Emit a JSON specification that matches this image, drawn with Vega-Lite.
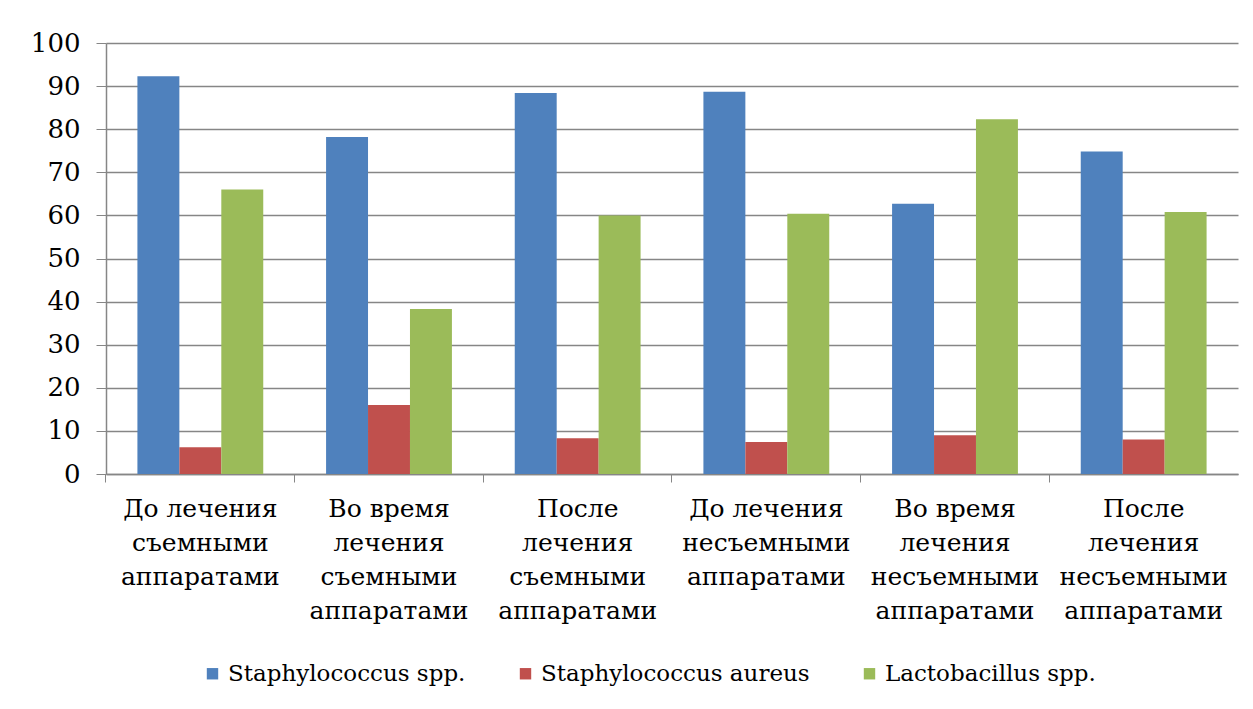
{
  "$schema": "https://vega.github.io/schema/vega-lite/v6.json",
  "width": 1132,
  "height": 431,
  "padding": {"left": 30, "top": 30, "right": 16, "bottom": 10},
  "background": "white",
  "data": {"values": [
    {"group": "До лечения|съемными|аппаратами", "series": "Staphylococcus spp.", "value": 92.3},
    {"group": "До лечения|съемными|аппаратами", "series": "Staphylococcus aureus", "value": 6.2},
    {"group": "До лечения|съемными|аппаратами", "series": "Lactobacillus spp.", "value": 66.0},
    {"group": "Во время|лечения|съемными|аппаратами", "series": "Staphylococcus spp.", "value": 78.2},
    {"group": "Во время|лечения|съемными|аппаратами", "series": "Staphylococcus aureus", "value": 16.0},
    {"group": "Во время|лечения|съемными|аппаратами", "series": "Lactobacillus spp.", "value": 38.3},
    {"group": "После|лечения|съемными|аппаратами", "series": "Staphylococcus spp.", "value": 88.4},
    {"group": "После|лечения|съемными|аппаратами", "series": "Staphylococcus aureus", "value": 8.3},
    {"group": "После|лечения|съемными|аппаратами", "series": "Lactobacillus spp.", "value": 60.0},
    {"group": "До лечения|несъемными|аппаратами", "series": "Staphylococcus spp.", "value": 88.7},
    {"group": "До лечения|несъемными|аппаратами", "series": "Staphylococcus aureus", "value": 7.4},
    {"group": "До лечения|несъемными|аппаратами", "series": "Lactobacillus spp.", "value": 60.4},
    {"group": "Во время|лечения|несъемными|аппаратами", "series": "Staphylococcus spp.", "value": 62.7},
    {"group": "Во время|лечения|несъемными|аппаратами", "series": "Staphylococcus aureus", "value": 9.0},
    {"group": "Во время|лечения|несъемными|аппаратами", "series": "Lactobacillus spp.", "value": 82.3},
    {"group": "После|лечения|несъемными|аппаратами", "series": "Staphylococcus spp.", "value": 74.8},
    {"group": "После|лечения|несъемными|аппаратами", "series": "Staphylococcus aureus", "value": 8.0},
    {"group": "После|лечения|несъемными|аппаратами", "series": "Lactobacillus spp.", "value": 60.8}
  ]},
  "mark": {"type": "bar"},
  "encoding": {
    "x": {
      "field": "group", "type": "nominal", "sort": null,
      "scale": {"paddingInner": 0.333, "paddingOuter": 0.1665},
      "axis": {
        "title": null, "labelAngle": 0,
        "labelExpr": "split(datum.label, '|')",
        "labelFontSize": 25, "labelColor": "black",
        "labelLineHeight": 34, "labelPadding": 14, "labelBaseline": "top",
        "tickSize": 8, "tickColor": "#868686", "bandPosition": -0.25,
        "domainColor": "#868686", "domainWidth": 1.5, "labelLimit": 300
      }
    },
    "xOffset": {"field": "series", "type": "nominal", "sort": ["Staphylococcus spp.", "Staphylococcus aureus", "Lactobacillus spp."]},
    "y": {
      "field": "value", "type": "quantitative",
      "scale": {"domain": [0, 100], "nice": false},
      "axis": {
        "title": null, "values": [0,10,20,30,40,50,60,70,80,90,100],
        "labelFontSize": 26, "labelColor": "black",
        "labelPadding": 16, "tickSize": 10, "tickColor": "#868686",
        "domainColor": "#868686", "domainWidth": 1.5,
        "gridColor": "#868686", "gridWidth": 1.5
      }
    },
    "color": {
      "field": "series", "type": "nominal",
      "sort": ["Staphylococcus spp.", "Staphylococcus aureus", "Lactobacillus spp."],
      "scale": {"range": ["#4F81BD", "#C0504D", "#9BBB59"]},
      "legend": {
        "title": null, "orient": "none", "direction": "horizontal",
        "legendX": 95, "legendY": 619,
        "labelFontSize": 23, "labelColor": "black",
        "symbolType": "square", "symbolSize": 130, "symbolStrokeWidth": 0,
        "columnPadding": 48, "labelOffset": 4, "labelLimit": 400
      }
    }
  },
  "config": {"view": {"stroke": null}, "font": "DejaVu Serif", "axis": {"labelFont": "DejaVu Serif"}, "legend": {"labelFont": "DejaVu Serif"}}
}
